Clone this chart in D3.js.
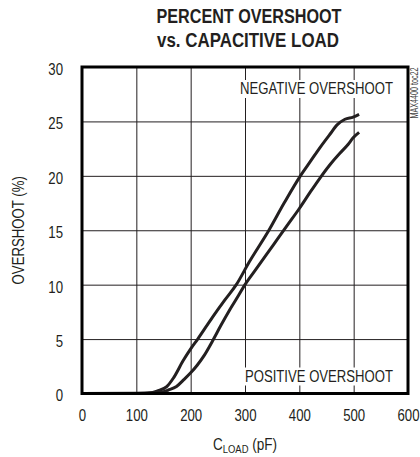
<!DOCTYPE html>
<html>
<head>
<meta charset="utf-8">
<script src="https://cdn.jsdelivr.net/npm/d3@7"></script>
<style>
  body { margin: 0; background: #fff; }
  text { font-family: "Liberation Sans", Arial, sans-serif; fill: #231f20; }
  .title { font-weight: bold; font-size: 20px; }
  .tick text { font-size: 16.5px; }
  .label { font-size: 16.5px; }
  .note { font-size: 10px; fill: #444; }
</style>
</head>
<body>
<div id="chart"></div>
<script>
// tick values
const xTicks = [0, 100, 200, 300, 400, 500, 600];
const yTicks = [0, 5, 10, 15, 20, 25, 30];

// negative overshoot curve (upper) : capacitive load pF / overshoot %
const negLoad = [0, 100, 130, 140, 156, 168, 186, 200, 213, 240, 263, 284, 308, 344, 372, 402, 420, 438, 456, 470, 484, 499, 510];
const negOver = [0, 0.02, 0.1, 0.26, 0.63, 1.4, 3.0, 4.1, 5.0, 7.0, 8.6, 10.0, 12.1, 15.0, 17.5, 20.0, 21.3, 22.6, 23.8, 24.7, 25.2, 25.4, 25.65];

// positive overshoot curve (lower)
const posLoad = [0, 120, 145, 159, 174, 188, 200, 212, 225, 240, 255, 272, 288, 300, 320, 340, 360, 380, 400, 420, 438, 456, 475, 490, 499, 510];
const posOver = [0, 0, 0.1, 0.32, 0.65, 1.3, 1.9, 2.6, 3.5, 4.8, 6.2, 7.7, 9.0, 10.0, 11.4, 12.8, 14.2, 15.6, 17.0, 18.5, 19.8, 21.0, 22.1, 22.9, 23.5, 24.0];

const margin = {top: 67, right: 12, bottom: 63.5, left: 82};
const width = 420 - margin.left - margin.right;
const height = 457 - margin.top - margin.bottom;

const root = d3.select("#chart")
    .append("svg")
        .attr("width", 420)
        .attr("height", 457);

const svg = root.append("g")
        .attr("transform", `translate(${margin.left}, ${margin.top})`);

// squeeze text to look like a condensed face
function narrow(sel, k) {
    sel.each(function() {
        const len = this.getComputedTextLength();
        d3.select(this)
            .attr("textLength", len * k)
            .attr("lengthAdjust", "spacingAndGlyphs");
    });
}

// scales
const xScale = d3.scaleLinear().domain([0, 600]).range([0, width]);
const yScale = d3.scaleLinear().domain([0, 30]).range([height, 0]);

// grid lines
svg.append("g")
    .call(d3.axisBottom(xScale).tickValues(xTicks).tickSize(height).tickFormat(""))
    .call(g => g.select(".domain").remove())
    .call(g => g.selectAll("line").attr("stroke", "#231f20").attr("stroke-width", 1));
svg.append("g")
    .call(d3.axisLeft(yScale).tickValues(yTicks).tickSize(-width).tickFormat(""))
    .call(g => g.select(".domain").remove())
    .call(g => g.selectAll("line").attr("stroke", "#231f20").attr("stroke-width", 1));

// x tick labels
svg.append("g")
        .attr("transform", `translate(0, ${height})`)
    .call(d3.axisBottom(xScale).tickValues(xTicks).tickSize(0).tickPadding(16))
    .call(g => g.select(".domain").remove())
    .call(g => g.selectAll("text").attr("dy", "0.71em").call(narrow, 0.8));

// y tick labels
svg.append("g")
    .call(d3.axisLeft(yScale).tickValues(yTicks).tickSize(0).tickPadding(19))
    .call(g => g.select(".domain").remove())
    .call(g => g.selectAll("text").attr("dy", "0.45em").call(narrow, 0.8));

// curves
const line = d3.line()
    .x(d => xScale(d[0]))
    .y(d => yScale(d[1]))
    .curve(d3.curveMonotoneX);

svg.append("path")
    .datum(negLoad.map((v, i) => [v, negOver[i]]))
        .attr("fill", "none")
        .attr("stroke", "#231f20")
        .attr("stroke-width", 3)
        .attr("stroke-linejoin", "round")
        .attr("d", line);

svg.append("path")
    .datum(posLoad.map((v, i) => [v, posOver[i]]))
        .attr("fill", "none")
        .attr("stroke", "#231f20")
        .attr("stroke-width", 3)
        .attr("stroke-linejoin", "round")
        .attr("d", line);

// curve labels with white backing
function curveLabel(txt, x, y, len) {
    const t = svg.append("text")
            .attr("class", "label")
            .attr("x", x)
            .attr("y", y)
            .attr("text-anchor", "end")
            .attr("textLength", len)
            .attr("lengthAdjust", "spacingAndGlyphs")
        .text(txt);
    const b = t.node().getBBox();
    svg.insert("rect", () => t.node())
        .attr("x", b.x - 3)
        .attr("y", b.y + 1)
        .attr("width", b.width + 6)
        .attr("height", b.height)
        .attr("fill", "#fff");
}

curveLabel("NEGATIVE OVERSHOOT", width - 15, 27, 153);
curveLabel("POSITIVE OVERSHOOT", width - 15, height - 12, 148);

// frame
svg.append("rect")
    .attr("x", 0)
    .attr("y", 0)
    .attr("width", width)
    .attr("height", height)
    .attr("fill", "none")
    .attr("stroke", "#000")
    .attr("stroke-width", 3);

// title
root.append("text")
        .attr("class", "title")
        .attr("x", 249)
        .attr("y", 23)
        .attr("text-anchor", "middle")
        .attr("textLength", 185)
        .attr("lengthAdjust", "spacingAndGlyphs")
    .text("PERCENT OVERSHOOT");
root.append("text")
        .attr("class", "title")
        .attr("x", 248)
        .attr("y", 47)
        .attr("text-anchor", "middle")
        .attr("textLength", 182)
        .attr("lengthAdjust", "spacingAndGlyphs")
    .text("vs. CAPACITIVE LOAD");

// x axis title with subscript, squeezed horizontally
const xt = root.append("text")
        .attr("class", "label")
        .attr("transform", `translate(${margin.left + width / 2}, 450) scale(0.82, 1)`)
        .attr("text-anchor", "middle");
xt.append("tspan").text("C");
xt.append("tspan").attr("font-size", "11.5px").attr("dy", 3).text("LOAD");
xt.append("tspan").attr("dy", -3).text(" (pF)");

// y axis title
root.append("text")
        .attr("class", "label")
        .attr("transform", `translate(24, ${margin.top + height / 2}) rotate(-90)`)
        .attr("text-anchor", "middle")
    .text("OVERSHOOT (%)")
    .call(narrow, 0.8);

// side note
root.append("text")
        .attr("class", "note")
        .attr("transform", "translate(418, 93) rotate(-90)")
        .attr("text-anchor", "middle")
        .attr("textLength", 51)
        .attr("lengthAdjust", "spacingAndGlyphs")
    .text("MAX4400 toc22");
</script>
</body>
</html>
